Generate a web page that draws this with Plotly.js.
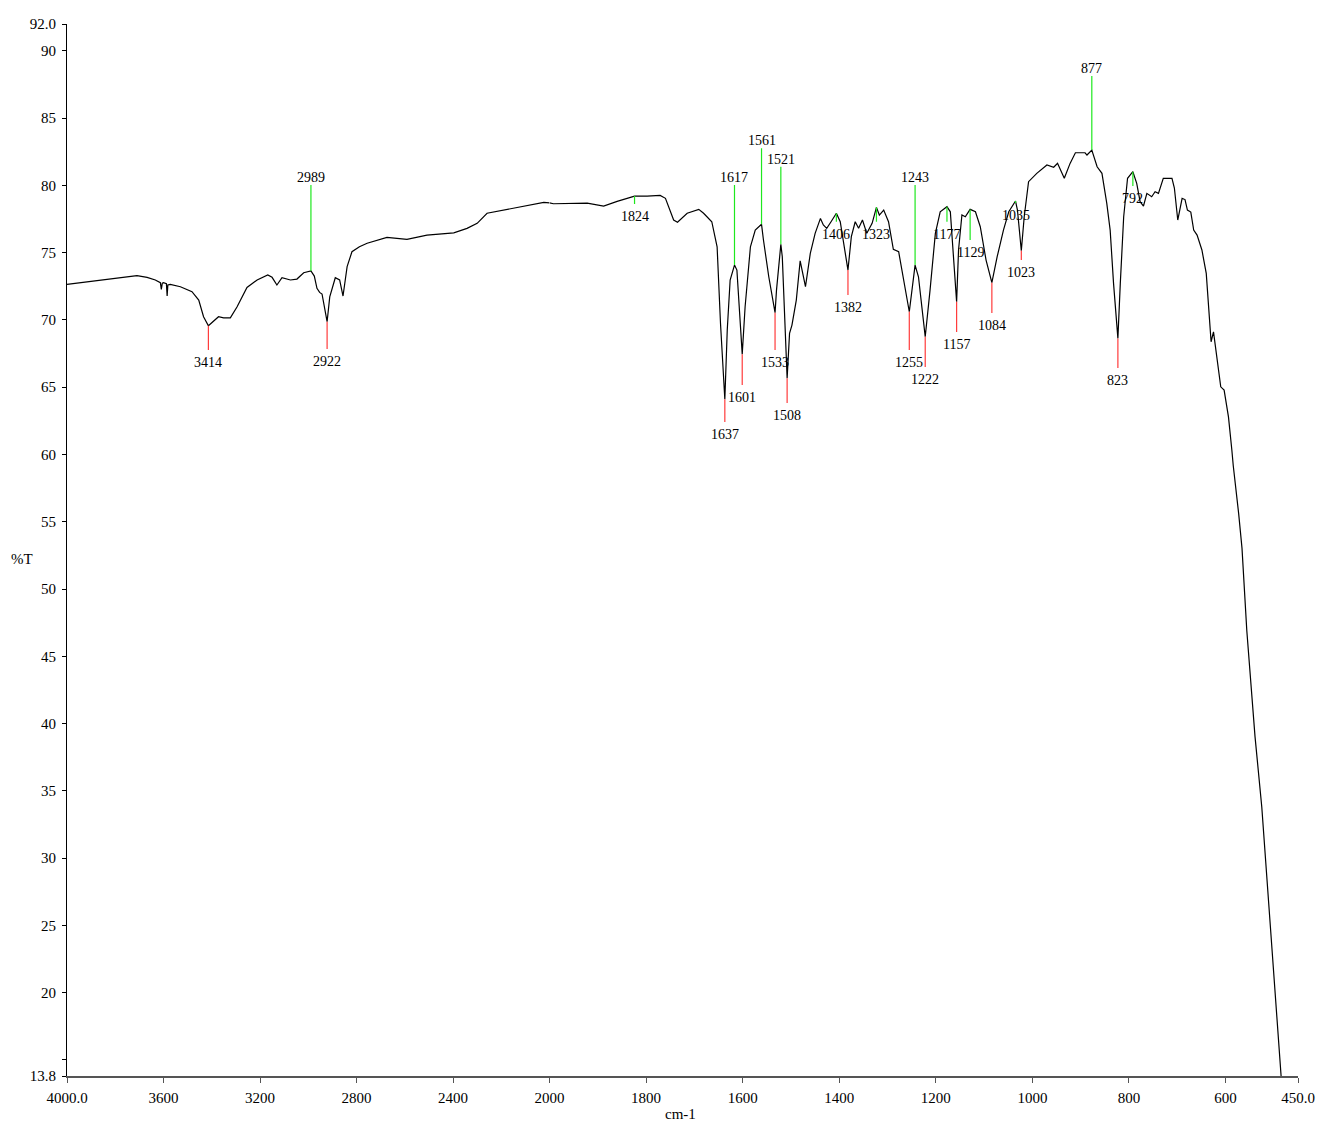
<!DOCTYPE html>
<html><head><meta charset="utf-8">
<script src="https://cdn.plot.ly/plotly-3.0.1.min.js"></script>
<style>html,body{margin:0;padding:0;background:#fff}#chart{width:1320px;height:1126px}</style>
</head><body><div id="chart"></div>
<script>
// ---- spectrum (wavenumber cm-1, %T) ----
const wavenumber = [4000,3890,3793,3710,3668,3634,3613,3609,3605,3600,3588,3585,3582,3572,3530,3482,3454,3434,3414,3392,3372,3351,3323,3295,3254,3212,3168,3150,3130,3109,3074,3047,3019,2989,2975,2964,2953,2943,2922,2911,2888,2870,2856,2839,2819,2788,2756,2674,2591,2508,2397,2342,2300,2259,2190,2093,2024,2000,
1992,1922,1888,1860,1824,1798,1771,1760,1750,1743,1735,1715,1691,1681,1664,1653,1646,1637,1632,1626,1617,1612,1601,1595,1584,1574,1561,1557,1546,1533,1530,1521,1518,1508,1503,1498,1489,1481,1470,1460,1450,1439,1433,1426,1417,1406,1398,1382,1375,1367,1360,1352,1343,1332,1323,1317,1308,1298,1288,1277,1255,1243,1236,1222,1212,1201,1191,1177,1170,1157,1153,1146,1139,1129,1118,1108,1096,1084,1073,1060,1049,1035,1031,1023,1017,1008,991,970,956,948,934,922,911,891,887,877,866,856,846,839,832,823,818,811,803,792,784,777,770,763,753,746,739,729,711,706,699,690,684,679,672,666,659,649,640,635,630,625,618,610,603,594,587,584,573,566,556,539,525,508,485];
const transmittance = [72.65,72.89,73.06,73.29,73.17,72.97,72.77,72.28,72.73,72.77,72.70,71.78,72.60,72.65,72.47,72.10,71.48,70.24,69.57,69.94,70.24,70.16,70.16,70.98,72.42,72.97,73.34,73.17,72.60,73.14,72.97,73.04,73.51,73.64,73.26,72.35,72.05,71.93,69.87,71.72,73.14,72.97,71.78,73.96,75.07,75.44,75.70,76.14,75.99,76.31,76.48,76.81,77.18,77.93,78.17,78.54,78.74,78.70,
78.64,78.69,78.47,78.82,79.21,79.21,79.26,79.04,78.17,77.43,77.26,77.93,78.22,77.93,77.30,75.44,69.75,64.10,69.25,72.97,74.08,73.71,67.46,70.98,75.44,76.68,77.11,75.94,73.21,70.54,72.22,75.62,74.70,65.66,69.00,69.62,71.48,74.40,72.47,74.95,76.44,77.55,77.06,76.81,77.30,77.93,77.30,73.71,76.19,77.30,76.81,77.43,76.44,77.18,78.37,77.80,78.17,77.30,75.25,75.07,70.61,74.08,73.21,68.75,72.22,76.44,78.04,78.42,78.04,71.35,75.20,77.80,77.67,78.22,78.04,76.93,74.45,72.77,74.70,76.68,78.04,78.84,78.17,75.14,77.67,80.28,80.90,81.52,81.35,81.64,80.53,81.64,82.43,82.43,82.26,82.63,81.39,80.90,78.67,76.68,72.72,68.63,72.72,77.67,80.53,81.02,80.16,78.79,78.47,79.41,79.16,79.53,79.41,80.53,80.53,79.81,77.43,79.04,78.95,78.17,78.02,76.68,76.31,75.20,73.46,70.74,68.38,69.12,67.26,65.03,64.79,62.80,60.33,59.14,55.64,53.04,46.90,39.03,33.80,25.00,13.80];

// ---- peak picks ----
const peakWn   = [3414,2989,2922,1824,1637,1617,1601,1561,1533,1521,1508,1406,1382,1323,1255,1243,1222,1177,1157,1129,1084,1035,1023,877,823,792];
const peakT    = [69.57,73.64,69.87,79.21,64.10,74.08,67.46,77.11,70.54,75.62,65.66,77.93,73.71,78.37,70.61,74.08,68.75,78.42,71.35,78.22,72.77,78.84,75.14,82.63,68.63,81.02];
const peakEnd  = [67.76,80.03,67.84,78.62,62.41,80.03,65.16,82.76,67.76,81.39,63.82,77.30,71.85,77.30,67.76,80.03,66.50,77.30,69.10,75.94,70.51,78.69,74.45,88.13,66.42,79.96];
const peakType = ['min','max','min','max','min','max','min','max','min','max','min','max','min','max','min','max','min','max','min','max','min','max','min','max','min','max'];

// ---- axis ticks ----
const yTickVals = [92,90,85,80,75,70,65,60,55,50,45,40,35,30,25,20,15,13.8];
const yTickText = ['92.0','90','85','80','75','70','65','60','55','50','45','40','35','30','25','20','','13.8'];
const xTickValsHigh = [4000,3600,3200,2800,2400,2000];
const xTickTextHigh = ['4000.0','3600','3200','2800','2400','2000'];
const xTickValsLow = [1800,1600,1400,1200,1000,800,600,450];
const xTickTextLow = ['1800','1600','1400','1200','1000','800','600','450.0'];
const BREAK = 2000; // scale changes at 2000 cm-1

const SERIF = 'Liberation Serif, Times New Roman, serif';
const RED = '#ff3b3b', GREEN = '#1ee81e';

const hiX=[],hiY=[],loX=[],loY=[];
wavenumber.forEach((w,i)=>{
  if(w>=BREAK){hiX.push(w);hiY.push(transmittance[i]);}
  if(w<=BREAK){loX.push(w);loY.push(transmittance[i]);}
});

const traces = [
  {x:hiX,y:hiY,xaxis:'x',yaxis:'y',mode:'lines',line:{color:'#000',width:1.2},hoverinfo:'skip'},
  {x:loX,y:loY,xaxis:'x2',yaxis:'y',mode:'lines',line:{color:'#000',width:1.2},hoverinfo:'skip'}
];
const groups = {};
const annotations = [];
peakWn.forEach((w,i)=>{
  const ax = w>=BREAK ? 'x' : 'x2';
  const col = peakType[i]==='min' ? RED : GREEN;
  const key = ax+col;
  if(!groups[key]) groups[key] = {x:[],y:[],xaxis:ax,yaxis:'y',mode:'lines',line:{color:col,width:1.2},hoverinfo:'skip'};
  groups[key].x.push(w,w,null);
  groups[key].y.push(peakT[i],peakEnd[i],null);
  const up = peakEnd[i] > peakT[i];
  annotations.push({
    xref:ax, yref:'y', x:w, y:peakEnd[i], text:String(w), showarrow:false,
    xanchor:'center', yanchor: up ? 'bottom' : 'top', yshift: up ? -2 : -3,
    font:{family:SERIF,size:14,color:'#000'}
  });
});
Object.values(groups).forEach(g=>traces.push(g));

annotations.push({xref:'paper',yref:'paper',x:-0.0366,y:0.4914,text:'%T',showarrow:false,xanchor:'center',yanchor:'middle',font:{family:SERIF,size:15,color:'#000'}});
annotations.push({xref:'paper',yref:'paper',x:0.498,y:-0.0361,text:'cm-1',showarrow:false,xanchor:'center',yanchor:'middle',font:{family:SERIF,size:15,color:'#000'}});

const xCommon = {
  ticks:'outside', ticklen:5, tickwidth:1, tickcolor:'#555',
  showline:true, linecolor:'#555', linewidth:2,
  showgrid:false, zeroline:false, anchor:'y', tickmode:'array',
  tickfont:{family:SERIF,size:15,color:'#000'}, ticklabelstandoff:2
};
const layout = {
  width:1320, height:1126,
  margin:{l:67,r:22,t:24,b:50,pad:0},
  paper_bgcolor:'#fff', plot_bgcolor:'#fff',
  showlegend:false,
  font:{family:SERIF,size:15,color:'#000'},
  xaxis:Object.assign({},xCommon,{domain:[0,0.392],range:[4000,2000],tickvals:xTickValsHigh,ticktext:xTickTextHigh}),
  xaxis2:Object.assign({},xCommon,{domain:[0.392,1],range:[2000,450],tickvals:xTickValsLow,ticktext:xTickTextLow}),
  yaxis:{
    range:[13.8,92], tickmode:'array', tickvals:yTickVals, ticktext:yTickText,
    ticks:'outside', ticklen:4, tickcolor:'#000', showline:true, linecolor:'#000', linewidth:1,
    showgrid:false, zeroline:false, anchor:'x', ticklabelstandoff:3,
    tickfont:{family:SERIF,size:15,color:'#000'}
  },
  annotations:annotations
};
Plotly.newPlot('chart', traces, layout, {displayModeBar:false, staticPlot:true});
</script>
</body></html>
